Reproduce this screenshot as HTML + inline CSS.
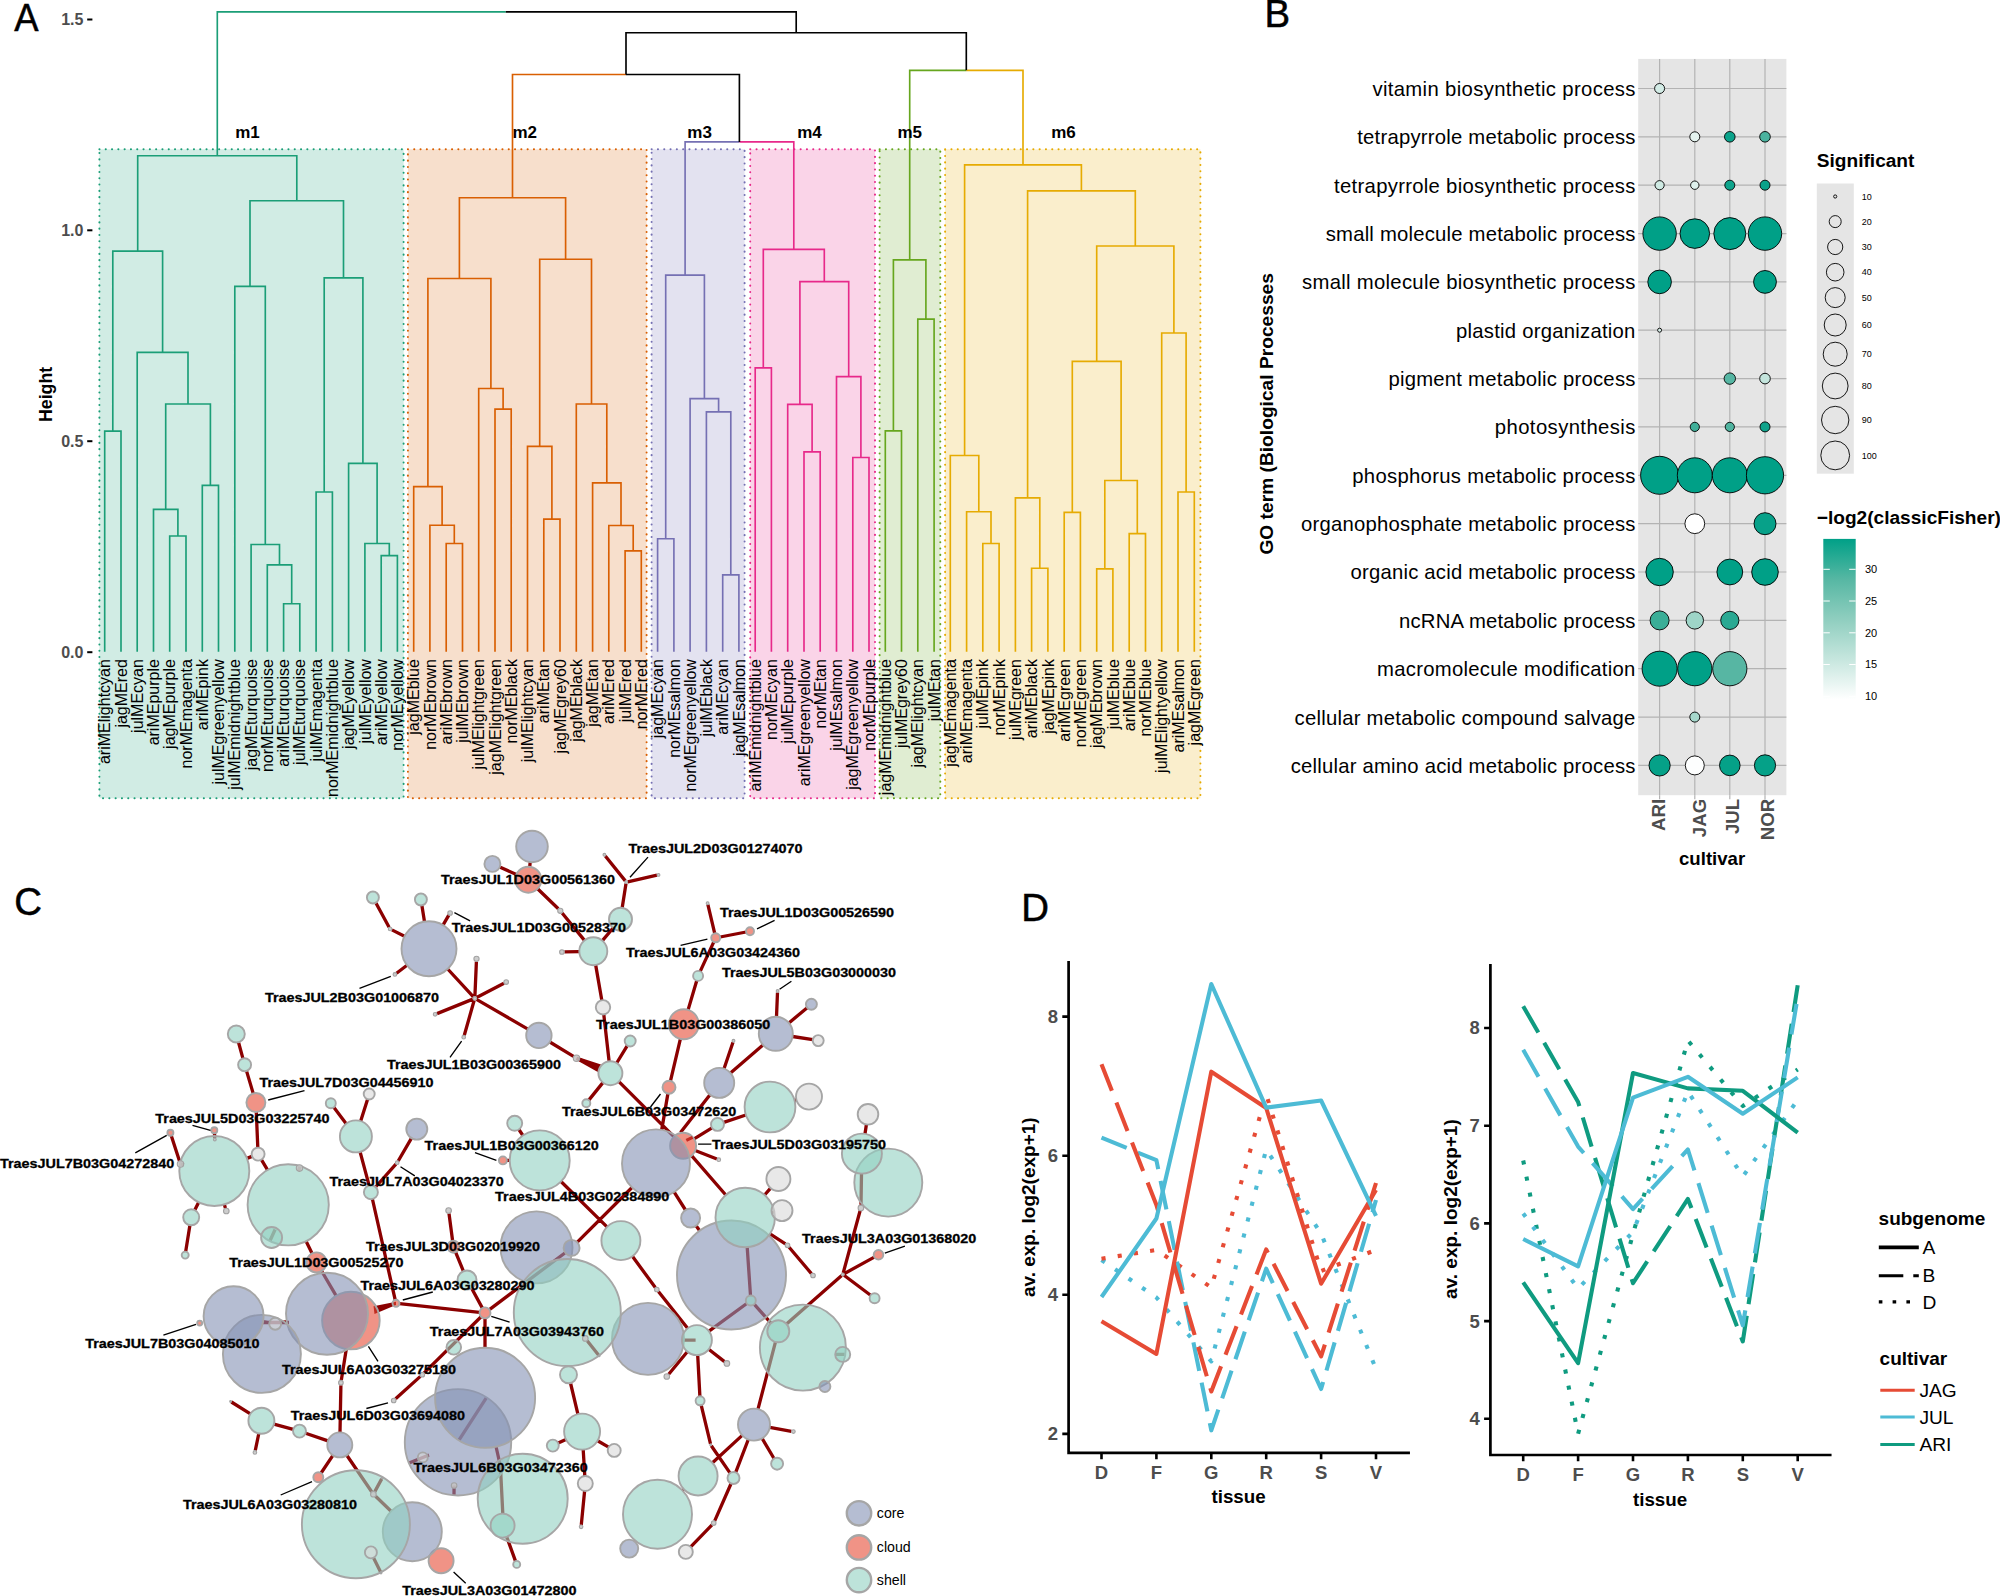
<!DOCTYPE html>
<html lang="en"><head><meta charset="utf-8"><title>Figure</title>
<style>
html,body{margin:0;padding:0;background:#fff}
svg{display:block;font-family:"Liberation Sans",sans-serif}
</style></head><body>
<svg width="2000" height="1596" viewBox="0 0 2000 1596">
<rect width="2000" height="1596" fill="#fff"/>
<g id="panelA">
<rect x="99.4" y="149.3" width="304.2" height="649" fill="#1b9e77" fill-opacity="0.2" stroke="#1b9e77" stroke-width="2" stroke-dasharray="0.1 6.2" stroke-linecap="round"/>
<rect x="407.9" y="149.3" width="238.7" height="649" fill="#d95f02" fill-opacity="0.2" stroke="#d95f02" stroke-width="2" stroke-dasharray="0.1 6.2" stroke-linecap="round"/>
<rect x="651.6" y="149.3" width="93" height="649" fill="#7570b3" fill-opacity="0.2" stroke="#7570b3" stroke-width="2" stroke-dasharray="0.1 6.2" stroke-linecap="round"/>
<rect x="750.2" y="149.3" width="124.8" height="649" fill="#e7298a" fill-opacity="0.2" stroke="#e7298a" stroke-width="2" stroke-dasharray="0.1 6.2" stroke-linecap="round"/>
<rect x="879.6" y="149.3" width="60.7" height="649" fill="#66a61e" fill-opacity="0.2" stroke="#66a61e" stroke-width="2" stroke-dasharray="0.1 6.2" stroke-linecap="round"/>
<rect x="945.1" y="149.3" width="255.3" height="649" fill="#e6ab02" fill-opacity="0.2" stroke="#e6ab02" stroke-width="2" stroke-dasharray="0.1 6.2" stroke-linecap="round"/>
<path d="M104.7 651.7V431.1H121V651.7M169.7 651.7V536H186V651.7M153.5 651.7V509.3H177.9V536M202.3 651.7V485.3H218.5V651.7M165.7 509.3V404H210.4V485.3M137.2 651.7V352.3H188V404M112.8 431.1V251.1H162.6V352.3M283.6 651.7V603.7H299.8V651.7M267.3 651.7V564.8H291.7V603.7M251.1 651.7V544.5H279.5V564.8M234.8 651.7V286.3H265.3V544.5M316.1 651.7V492H332.4V651.7M381.2 651.7V555.6H397.4V651.7M364.9 651.7V543.5H389.3V555.6M348.6 651.7V463.3H377.1V543.5M324.2 492V277.9H362.9V463.3M250 286.3V200.7H343.5V277.9M137.7 251.1V155.7H296.8V200.7" fill="none" stroke="#1b9e77" stroke-width="1.65"/>
<path d="M446.2 651.7V543.5H462.5V651.7M429.9 651.7V525.2H454.3V543.5M413.7 651.7V486.6H442.1V525.2M495 651.7V409.1H511.2V651.7M478.7 651.7V388.5H503.1V409.1M427.9 486.6V278.5H490.9V388.5M543.8 651.7V519.1H560V651.7M527.5 651.7V446.3H551.9V519.1M625.1 651.7V550.9H641.3V651.7M608.8 651.7V525.5H633.2V550.9M592.6 651.7V482.9H621V525.5M576.3 651.7V404H606.8V482.9M539.7 446.3V259.2H591.5V404M459.4 278.5V197.7H565.6V259.2" fill="none" stroke="#d95f02" stroke-width="1.65"/>
<path d="M657.6 651.7V538.7H673.9V651.7M722.7 651.7V574.9H738.9V651.7M706.4 651.7V411.8H730.8V574.9M690.1 651.7V398.6H718.6V411.8M665.7 538.7V275.1H704.4V398.6" fill="none" stroke="#7570b3" stroke-width="1.65"/>
<path d="M755.2 651.7V367.9H771.4V651.7M804 651.7V451.8H820.2V651.7M787.7 651.7V404.4H812.1V451.8M852.8 651.7V457.5H869V651.7M836.5 651.7V376.6H860.9V457.5M799.9 404.4V281.6H848.7V376.6M763.3 367.9V249.4H824.3V281.6" fill="none" stroke="#e7298a" stroke-width="1.65"/>
<path d="M885.3 651.7V430.8H901.5V651.7M917.8 651.7V319.1H934.1V651.7M893.4 430.8V259.9H925.9V319.1" fill="none" stroke="#66a61e" stroke-width="1.65"/>
<path d="M982.8 651.7V543.5H999.1V651.7M966.6 651.7V511.7H991V543.5M950.3 651.7V455.5H978.8V511.7M1031.6 651.7V568.2H1047.9V651.7M1015.4 651.7V497.8H1039.8V568.2M1064.2 651.7V512.3H1080.4V651.7M1096.7 651.7V568.8H1112.9V651.7M1129.2 651.7V533.6H1145.5V651.7M1104.8 568.8V480.5H1137.3V533.6M1072.3 512.3V361.4H1121.1V480.5M1178 651.7V492H1194.3V651.7M1161.7 651.7V333H1186.1V492M1096.7 361.4V246H1173.9V333M1027.6 497.8V190.9H1135.3V246M964.6 455.5V164.8H1081.4V190.9" fill="none" stroke="#e6ab02" stroke-width="1.65"/>
<path d="M217.3 155.7V11.8H505.8" stroke="#1b9e77" fill="none" stroke-width="1.65"/>
<path d="M512.5 197.7V74.5H626" stroke="#d95f02" fill="none" stroke-width="1.65"/>
<path d="M685.1 275.1V141.9H739.4" stroke="#7570b3" fill="none" stroke-width="1.65"/>
<path d="M793.8 249.4V141.9H739.4" stroke="#e7298a" fill="none" stroke-width="1.65"/>
<path d="M909.7 259.9V70.3H966.3" stroke="#66a61e" fill="none" stroke-width="1.65"/>
<path d="M1023 164.8V70.3H966.3" stroke="#e6ab02" fill="none" stroke-width="1.65"/>
<path d="M505.8 11.8H796.2V32.7M626 74.5V32.7H966.3V70.3M626 74.5H739.4V141.9" stroke="#000" fill="none" stroke-width="1.65"/>
<text x="235.2" y="137.6" font-size="17" font-weight="bold">m1</text>
<text x="512.5" y="137.6" font-size="17" font-weight="bold">m2</text>
<text x="687.3" y="137.6" font-size="17" font-weight="bold">m3</text>
<text x="797.2" y="137.6" font-size="17" font-weight="bold">m4</text>
<text x="897.5" y="137.6" font-size="17" font-weight="bold">m5</text>
<text x="1051.2" y="137.6" font-size="17" font-weight="bold">m6</text>
<g font-size="16" text-anchor="end">
<text transform="translate(110.3,659.1) rotate(-90)">ariMElightcyan</text>
<text transform="translate(126.6,659.1) rotate(-90)">jagMEred</text>
<text transform="translate(142.8,659.1) rotate(-90)">julMEcyan</text>
<text transform="translate(159.1,659.1) rotate(-90)">ariMEpurple</text>
<text transform="translate(175.3,659.1) rotate(-90)">jagMEpurple</text>
<text transform="translate(191.6,659.1) rotate(-90)">norMEmagenta</text>
<text transform="translate(207.9,659.1) rotate(-90)">ariMEpink</text>
<text transform="translate(224.1,659.1) rotate(-90)">julMEgreenyellow</text>
<text transform="translate(240.4,659.1) rotate(-90)">julMEmidnightblue</text>
<text transform="translate(256.7,659.1) rotate(-90)">jagMEturquoise</text>
<text transform="translate(272.9,659.1) rotate(-90)">norMEturquoise</text>
<text transform="translate(289.2,659.1) rotate(-90)">ariMEturquoise</text>
<text transform="translate(305.4,659.1) rotate(-90)">julMEturquoise</text>
<text transform="translate(321.7,659.1) rotate(-90)">julMEmagenta</text>
<text transform="translate(338,659.1) rotate(-90)">norMEmidnightblue</text>
<text transform="translate(354.2,659.1) rotate(-90)">jagMEyellow</text>
<text transform="translate(370.5,659.1) rotate(-90)">julMEyellow</text>
<text transform="translate(386.8,659.1) rotate(-90)">ariMEyellow</text>
<text transform="translate(403,659.1) rotate(-90)">norMEyellow</text>
<text transform="translate(419.3,659.1) rotate(-90)">jagMEblue</text>
<text transform="translate(435.5,659.1) rotate(-90)">norMEbrown</text>
<text transform="translate(451.8,659.1) rotate(-90)">ariMEbrown</text>
<text transform="translate(468.1,659.1) rotate(-90)">julMEbrown</text>
<text transform="translate(484.3,659.1) rotate(-90)">julMElightgreen</text>
<text transform="translate(500.6,659.1) rotate(-90)">jagMElightgreen</text>
<text transform="translate(516.9,659.1) rotate(-90)">norMEblack</text>
<text transform="translate(533.1,659.1) rotate(-90)">julMElightcyan</text>
<text transform="translate(549.4,659.1) rotate(-90)">ariMEtan</text>
<text transform="translate(565.6,659.1) rotate(-90)">jagMEgrey60</text>
<text transform="translate(581.9,659.1) rotate(-90)">jagMEblack</text>
<text transform="translate(598.2,659.1) rotate(-90)">jagMEtan</text>
<text transform="translate(614.4,659.1) rotate(-90)">ariMEred</text>
<text transform="translate(630.7,659.1) rotate(-90)">julMEred</text>
<text transform="translate(646.9,659.1) rotate(-90)">norMEred</text>
<text transform="translate(663.2,659.1) rotate(-90)">jagMEcyan</text>
<text transform="translate(679.5,659.1) rotate(-90)">norMEsalmon</text>
<text transform="translate(695.7,659.1) rotate(-90)">norMEgreenyellow</text>
<text transform="translate(712,659.1) rotate(-90)">julMEblack</text>
<text transform="translate(728.3,659.1) rotate(-90)">ariMEcyan</text>
<text transform="translate(744.5,659.1) rotate(-90)">jagMEsalmon</text>
<text transform="translate(760.8,659.1) rotate(-90)">ariMEmidnightblue</text>
<text transform="translate(777,659.1) rotate(-90)">norMEcyan</text>
<text transform="translate(793.3,659.1) rotate(-90)">julMEpurple</text>
<text transform="translate(809.6,659.1) rotate(-90)">ariMEgreenyellow</text>
<text transform="translate(825.8,659.1) rotate(-90)">norMEtan</text>
<text transform="translate(842.1,659.1) rotate(-90)">julMEsalmon</text>
<text transform="translate(858.4,659.1) rotate(-90)">jagMEgreenyellow</text>
<text transform="translate(874.6,659.1) rotate(-90)">norMEpurple</text>
<text transform="translate(890.9,659.1) rotate(-90)">jagMEmidnightblue</text>
<text transform="translate(907.1,659.1) rotate(-90)">julMEgrey60</text>
<text transform="translate(923.4,659.1) rotate(-90)">jagMElightcyan</text>
<text transform="translate(939.7,659.1) rotate(-90)">julMEtan</text>
<text transform="translate(955.9,659.1) rotate(-90)">jagMEmagenta</text>
<text transform="translate(972.2,659.1) rotate(-90)">ariMEmagenta</text>
<text transform="translate(988.4,659.1) rotate(-90)">julMEpink</text>
<text transform="translate(1004.7,659.1) rotate(-90)">norMEpink</text>
<text transform="translate(1021,659.1) rotate(-90)">julMEgreen</text>
<text transform="translate(1037.2,659.1) rotate(-90)">ariMEblack</text>
<text transform="translate(1053.5,659.1) rotate(-90)">jagMEpink</text>
<text transform="translate(1069.8,659.1) rotate(-90)">ariMEgreen</text>
<text transform="translate(1086,659.1) rotate(-90)">norMEgreen</text>
<text transform="translate(1102.3,659.1) rotate(-90)">jagMEbrown</text>
<text transform="translate(1118.5,659.1) rotate(-90)">julMEblue</text>
<text transform="translate(1134.8,659.1) rotate(-90)">ariMEblue</text>
<text transform="translate(1151.1,659.1) rotate(-90)">norMEblue</text>
<text transform="translate(1167.3,659.1) rotate(-90)">julMElightyellow</text>
<text transform="translate(1183.6,659.1) rotate(-90)">ariMEsalmon</text>
<text transform="translate(1199.9,659.1) rotate(-90)">jagMEgreen</text>
</g>
<text x="83.4" y="25.3" font-size="16" text-anchor="end" font-weight="bold" fill="#4d4d4d">1.5</text>
<rect x="87.2" y="18.5" width="5.2" height="2" fill="#000"/>
<text x="83.4" y="236.1" font-size="16" text-anchor="end" font-weight="bold" fill="#4d4d4d">1.0</text>
<rect x="87.2" y="229.3" width="5.2" height="2" fill="#000"/>
<text x="83.4" y="447" font-size="16" text-anchor="end" font-weight="bold" fill="#4d4d4d">0.5</text>
<rect x="87.2" y="440.2" width="5.2" height="2" fill="#000"/>
<text x="83.4" y="658" font-size="16" text-anchor="end" font-weight="bold" fill="#4d4d4d">0.0</text>
<rect x="87.2" y="651.2" width="5.2" height="2" fill="#000"/>
<text font-size="17.8" text-anchor="middle" font-weight="bold" transform="translate(52.2,394.4) rotate(-90)">Height</text>
<text x="14.3" y="31.1" font-size="38.4" stroke="#000" stroke-width="0.5" transform="translate(14.3 0) scale(0.95 1) translate(-14.3 0)">A</text>
</g>
<g id="panelB">
<rect x="1638.2" y="58.9" width="148.2" height="736.3" fill="#e5e5e5"/>
<path d="M1659.6 58.9V795.2M1694.8 58.9V795.2M1729.8 58.9V795.2M1765 58.9V795.2M1638.2 88.5H1786.4M1638.2 136.8H1786.4M1638.2 185.2H1786.4M1638.2 233.6H1786.4M1638.2 281.9H1786.4M1638.2 330.2H1786.4M1638.2 378.6H1786.4M1638.2 426.9H1786.4M1638.2 475.3H1786.4M1638.2 523.7H1786.4M1638.2 572H1786.4M1638.2 620.4H1786.4M1638.2 668.7H1786.4M1638.2 717.1H1786.4M1638.2 765.4H1786.4" stroke="#b3b3b3" stroke-width="1.2" fill="none"/>
<path d="M1659.6 795.2v4M1694.8 795.2v4M1729.8 795.2v4M1765 795.2v4" stroke="#b3b3b3" stroke-width="1.2" fill="none"/>
<circle cx="1659.6" cy="88.5" r="5" fill="#d3ece6" stroke="#000" stroke-width="0.9"/>
<circle cx="1694.8" cy="136.8" r="5" fill="#e4f3ef" stroke="#000" stroke-width="0.9"/>
<circle cx="1729.8" cy="136.8" r="5.3" fill="#0ba38b" stroke="#000" stroke-width="0.9"/>
<circle cx="1765" cy="136.8" r="5.3" fill="#4bb39f" stroke="#000" stroke-width="0.9"/>
<circle cx="1659.6" cy="185.2" r="4.6" fill="#cfeae3" stroke="#000" stroke-width="0.9"/>
<circle cx="1694.8" cy="185.2" r="4.2" fill="#def0ec" stroke="#000" stroke-width="0.9"/>
<circle cx="1729.8" cy="185.2" r="5" fill="#0ea48c" stroke="#000" stroke-width="0.9"/>
<circle cx="1765" cy="185.2" r="5" fill="#0aa28a" stroke="#000" stroke-width="0.9"/>
<circle cx="1659.6" cy="233.6" r="16.7" fill="#00a087" stroke="#000" stroke-width="0.9"/>
<circle cx="1694.8" cy="233.6" r="14.8" fill="#00a087" stroke="#000" stroke-width="0.9"/>
<circle cx="1729.8" cy="233.6" r="16" fill="#00a087" stroke="#000" stroke-width="0.9"/>
<circle cx="1765" cy="233.6" r="16.7" fill="#00a087" stroke="#000" stroke-width="0.9"/>
<circle cx="1659.6" cy="281.9" r="11.8" fill="#00a087" stroke="#000" stroke-width="0.9"/>
<circle cx="1765" cy="281.9" r="11.4" fill="#00a087" stroke="#000" stroke-width="0.9"/>
<circle cx="1659.6" cy="330.2" r="2" fill="#d9eee9" stroke="#000" stroke-width="0.9"/>
<circle cx="1729.8" cy="378.6" r="5.7" fill="#56b6a3" stroke="#000" stroke-width="0.9"/>
<circle cx="1765" cy="378.6" r="5.3" fill="#c4e5dd" stroke="#000" stroke-width="0.9"/>
<circle cx="1694.8" cy="426.9" r="4.6" fill="#40af99" stroke="#000" stroke-width="0.9"/>
<circle cx="1729.8" cy="426.9" r="4.6" fill="#50b4a0" stroke="#000" stroke-width="0.9"/>
<circle cx="1765" cy="426.9" r="5" fill="#10a38b" stroke="#000" stroke-width="0.9"/>
<circle cx="1659.6" cy="475.3" r="19" fill="#00a087" stroke="#000" stroke-width="0.9"/>
<circle cx="1694.8" cy="475.3" r="17.5" fill="#00a087" stroke="#000" stroke-width="0.9"/>
<circle cx="1729.8" cy="475.3" r="17.5" fill="#00a087" stroke="#000" stroke-width="0.9"/>
<circle cx="1765" cy="475.3" r="18.6" fill="#00a087" stroke="#000" stroke-width="0.9"/>
<circle cx="1694.8" cy="523.7" r="9.9" fill="#ffffff" stroke="#000" stroke-width="0.9"/>
<circle cx="1765" cy="523.7" r="11" fill="#07a189" stroke="#000" stroke-width="0.9"/>
<circle cx="1659.6" cy="572" r="13.7" fill="#00a087" stroke="#000" stroke-width="0.9"/>
<circle cx="1729.8" cy="572" r="12.9" fill="#00a087" stroke="#000" stroke-width="0.9"/>
<circle cx="1765" cy="572" r="13.3" fill="#00a087" stroke="#000" stroke-width="0.9"/>
<circle cx="1659.6" cy="620.4" r="9.5" fill="#3aae97" stroke="#000" stroke-width="0.9"/>
<circle cx="1694.8" cy="620.4" r="8.7" fill="#9ed5c8" stroke="#000" stroke-width="0.9"/>
<circle cx="1729.8" cy="620.4" r="9.1" fill="#2aa993" stroke="#000" stroke-width="0.9"/>
<circle cx="1659.6" cy="668.7" r="17.5" fill="#00a087" stroke="#000" stroke-width="0.9"/>
<circle cx="1694.8" cy="668.7" r="17.1" fill="#00a087" stroke="#000" stroke-width="0.9"/>
<circle cx="1729.8" cy="668.7" r="17.1" fill="#57b6a3" stroke="#000" stroke-width="0.9"/>
<circle cx="1694.8" cy="717.1" r="5" fill="#a6d8cc" stroke="#000" stroke-width="0.9"/>
<circle cx="1659.6" cy="765.4" r="10.6" fill="#05a188" stroke="#000" stroke-width="0.9"/>
<circle cx="1694.8" cy="765.4" r="9.5" fill="#fdfefe" stroke="#000" stroke-width="0.9"/>
<circle cx="1729.8" cy="765.4" r="10.3" fill="#05a188" stroke="#000" stroke-width="0.9"/>
<circle cx="1765" cy="765.4" r="10.6" fill="#05a188" stroke="#000" stroke-width="0.9"/>
<g font-size="20.3" text-anchor="end">
<text x="1635.4" y="95.9" textLength="263" lengthAdjust="spacing">vitamin biosynthetic process</text>
<text x="1635.4" y="144.2" textLength="278.2" lengthAdjust="spacing">tetrapyrrole metabolic process</text>
<text x="1635.4" y="192.6" textLength="301.3" lengthAdjust="spacing">tetrapyrrole biosynthetic process</text>
<text x="1635.4" y="241" textLength="309.7" lengthAdjust="spacing">small molecule metabolic process</text>
<text x="1635.4" y="289.3" textLength="333.3" lengthAdjust="spacing">small molecule biosynthetic process</text>
<text x="1635.4" y="337.6" textLength="179.4" lengthAdjust="spacing">plastid organization</text>
<text x="1635.4" y="386" textLength="247" lengthAdjust="spacing">pigment metabolic process</text>
<text x="1635.4" y="434.3" textLength="140.6" lengthAdjust="spacing">photosynthesis</text>
<text x="1635.4" y="482.7" textLength="283.1" lengthAdjust="spacing">phosphorus metabolic process</text>
<text x="1635.4" y="531.1" textLength="334.4" lengthAdjust="spacing">organophosphate metabolic process</text>
<text x="1635.4" y="579.4" textLength="285" lengthAdjust="spacing">organic acid metabolic process</text>
<text x="1635.4" y="627.8" textLength="236.4" lengthAdjust="spacing">ncRNA metabolic process</text>
<text x="1635.4" y="676.1" textLength="258.4" lengthAdjust="spacing">macromolecule modification</text>
<text x="1635.4" y="724.5" textLength="340.9" lengthAdjust="spacing">cellular metabolic compound salvage</text>
<text x="1635.4" y="772.8" textLength="344.7" lengthAdjust="spacing">cellular amino acid metabolic process</text>
</g>
<text font-size="18.7" text-anchor="end" font-weight="bold" fill="#4d4d4d" transform="translate(1664.8,798.8) rotate(-90)">ARI</text>
<text font-size="18.7" text-anchor="end" font-weight="bold" fill="#4d4d4d" transform="translate(1705.9,798.8) rotate(-90)">JAG</text>
<text font-size="18.7" text-anchor="end" font-weight="bold" fill="#4d4d4d" transform="translate(1739.4,798.8) rotate(-90)">JUL</text>
<text font-size="18.7" text-anchor="end" font-weight="bold" fill="#4d4d4d" transform="translate(1774,798.8) rotate(-90)">NOR</text>
<text x="1712.1" y="864.8" font-size="18.6" text-anchor="middle" font-weight="bold">cultivar</text>
<text font-size="19.2" text-anchor="middle" font-weight="bold" transform="translate(1273,413.8) rotate(-90)">GO term (Biological Processes</text>
<text x="1816.8" y="166.5" font-size="19.1" font-weight="bold">Significant</text>
<rect x="1816.8" y="183.5" width="37" height="290.2" fill="#e5e5e5"/>
<circle cx="1835.2" cy="196.5" r="1.6" fill="#e5e5e5" stroke="#000" stroke-width="0.9"/>
<text x="1861.8" y="199.7" font-size="9">10</text>
<circle cx="1835.2" cy="221.6" r="6" fill="#e5e5e5" stroke="#000" stroke-width="0.9"/>
<text x="1861.8" y="224.8" font-size="9">20</text>
<circle cx="1835.2" cy="247" r="7.6" fill="#e5e5e5" stroke="#000" stroke-width="0.9"/>
<text x="1861.8" y="250.2" font-size="9">30</text>
<circle cx="1835.2" cy="272.2" r="8.8" fill="#e5e5e5" stroke="#000" stroke-width="0.9"/>
<text x="1861.8" y="275.4" font-size="9">40</text>
<circle cx="1835.2" cy="297.6" r="10" fill="#e5e5e5" stroke="#000" stroke-width="0.9"/>
<text x="1861.8" y="300.8" font-size="9">50</text>
<circle cx="1835.2" cy="325" r="11" fill="#e5e5e5" stroke="#000" stroke-width="0.9"/>
<text x="1861.8" y="328.2" font-size="9">60</text>
<circle cx="1835.2" cy="354.2" r="12" fill="#e5e5e5" stroke="#000" stroke-width="0.9"/>
<text x="1861.8" y="357.4" font-size="9">70</text>
<circle cx="1835.2" cy="386" r="12.9" fill="#e5e5e5" stroke="#000" stroke-width="0.9"/>
<text x="1861.8" y="389.2" font-size="9">80</text>
<circle cx="1835.2" cy="420" r="13.7" fill="#e5e5e5" stroke="#000" stroke-width="0.9"/>
<text x="1861.8" y="423.2" font-size="9">90</text>
<circle cx="1835.2" cy="455.4" r="14.4" fill="#e5e5e5" stroke="#000" stroke-width="0.9"/>
<text x="1861.8" y="458.6" font-size="9">100</text>
<text x="1816.8" y="524.3" font-size="19.1" font-weight="bold">−log2(classicFisher)</text>
<defs><linearGradient id="cb" x1="0" y1="0" x2="0" y2="1"><stop offset="0" stop-color="#00a087"/><stop offset="0.25" stop-color="#56b7a3"/><stop offset="0.5" stop-color="#8fcebf"/><stop offset="0.75" stop-color="#c6e6de"/><stop offset="1" stop-color="#ffffff"/></linearGradient></defs>
<rect x="1823.3" y="538.9" width="32.4" height="160.6" fill="url(#cb)"/>
<text x="1865" y="573.2" font-size="11">30</text>
<text x="1865" y="604.9" font-size="11">25</text>
<text x="1865" y="636.7" font-size="11">20</text>
<text x="1865" y="668.4" font-size="11">15</text>
<text x="1865" y="700.2" font-size="11">10</text>
<path d="M1823.3 569.3h6.5M1855.7 569.3h-6.5M1823.3 601h6.5M1855.7 601h-6.5M1823.3 632.8h6.5M1855.7 632.8h-6.5M1823.3 664.5h6.5M1855.7 664.5h-6.5M1823.3 696.3h6.5M1855.7 696.3h-6.5" stroke="#fff" stroke-width="1" fill="none"/>
<text x="1264.5" y="27.2" font-size="38.4" stroke="#000" stroke-width="0.5">B</text>
</g>
<g id="panelC">
<path d="M530.2 862.2L529.7 866.8M499.7 867.1L516.4 874.5M537.6 888.8L558.3 908.8M562.1 913L584.5 940.4M613.1 928L602.4 940.6M626 883.6L622.2 907.8M605.3 856L625.3 880.9M657 875.2L627.7 881.8M564.4 951.9L579.3 951.6M595.7 965.1L601.8 1000.2M603.8 1014.5L609.1 1061.3M616.7 1063L627.3 1045.7M602.9 1082.6L588.8 1100.1M579.7 1059.6L599.4 1068.3M549.8 1042L573.5 1056.4M476.5 999.4L527.9 1029.1M474.9 996.4L476.4 961.6M476.6 997.5L504 983.3M472.9 999.1L437 1013.6M474.2 1000.3L464.3 1035.3M447.7 969L473.4 996.9M375.8 902.8L389.1 927.2M391.9 929.9L404.5 936.3M421.9 905.4L424.5 921.7M448.8 915.2L443 925.1M396.5 973.2L407 965.3M707.9 904.7L714.7 933.4M746.1 932L720.1 937M713.8 941.9L700.2 971.4M696.7 980.7L688.1 1009.9M680.4 1038.9L670.5 1080.9M667.9 1093.6L661.7 1129.9M618.9 1081.7L673.9 1136.6M776.5 1016.8L777.5 992.5M788.9 1022.9L807.2 1007.7M792.6 1036.5L812.8 1039.7M763 1044.9L730.5 1073.1M733 1042.2L724 1068.7M745.9 1115L723.7 1122.4M712 1127.8L694.1 1138.9M695.2 1150.5L716.9 1159M691.6 1155.6L725.8 1195M770.6 1188.1L764.6 1195M866.4 1124.5L865 1133.8M861.5 1173.6L861 1204.9M860.1 1210.8L843.2 1273M794.5 1100.5L796.4 1099.9M771.7 1212.5L774.4 1212M238.5 1042.2L242.9 1058.4M246.5 1070.9L253.2 1093.4M256.3 1112L257.8 1147.6M261.4 1159.7L267.5 1169.9M252 1156.4L247 1158.4M171.3 1135.7L179.4 1160.7M214.5 1133.3L214.7 1138M333.8 1107.3L346.2 1123.7M367.6 1099.2L360.7 1121.1M360.1 1151.9L369.1 1185.4M411.5 1138.2L398.2 1161M395.9 1164.2L375.6 1187M372.4 1199L395.2 1299.9M189.9 1225.2L185.7 1251.6M194.8 1210.1L198.7 1202.3M225.4 1208.1L224.4 1204.5M306.1 1241.2L312.1 1253.4M321.6 1271L336.2 1295.8M399.5 1303.7L479.5 1312.3M449 1213.5L452.6 1240.8M455.7 1252.3L463.4 1271.2M471.6 1288.3L482.4 1308.1M485 1318.4L485 1347.8M481.1 1316.8L424.1 1372.9M420.4 1376.4L395.6 1398.8M489.4 1309.6L565.2 1252.7M263.1 1321.6L269.3 1322.7M281.1 1322.7L286.7 1321.6M346.3 1349L341.3 1380.2M340.9 1385.2L340 1432.4M328 1440.9L305.6 1433.2M293.2 1429.4L273.9 1424.2M250.4 1413.9L231.4 1402M258.8 1433.5L255.3 1450.4M332.9 1455.3L321.1 1473M346.8 1455.2L371.7 1491.7M375.6 1496.3L391.1 1511.3M374.8 1491.6L381.7 1478.9M373.5 1557.8L380.6 1572.1M433.1 1552.7L432.3 1551.8M632 1187.5L577.3 1242.2M561 1181.5L607 1226.9M632.4 1256.3L655.3 1287.5M658.4 1291.5L687.6 1328.3M674.2 1192.1L685.5 1210M696.1 1225.7L699.7 1230.7M747.2 1247.1L750.5 1295.5M746.8 1303.5L709 1331.2M754.1 1304.2L771 1323.1M770 1233.8L785.4 1243.9M789.1 1247.2L811.4 1273.6M786.5 1324L841.7 1275.4M844.1 1273.7L874.3 1257.1M844 1275.3L870.6 1295.3M708.7 1349.3L724.5 1361.6M687.3 1351.7L668.7 1374.2M697.7 1355.1L699.9 1396.3M701.2 1405.2L710.5 1443.9M711.3 1445.7L730.1 1473.1M775.5 1341.9L758 1409.1M769.8 1427.4L791.4 1431.3M762.1 1438.4L774 1458.5M742.2 1435.4L712.5 1462.8M748.3 1439.5L735.7 1472.4M731.1 1483.5L714.7 1520.8M712 1524.9L690.7 1546.9M683.9 1489.4L682.6 1490.6M634.9 1541.7L635.5 1540.9M568.3 1366L568.3 1366.2M570.5 1383L577.9 1414.1M583.2 1449.6L584.8 1476M584.6 1491L581.3 1524.8M565.9 1439.4L558.2 1443M597.6 1440.7L608.6 1447.1M587.2 1340.8L598.5 1355.1M506.7 1536.9L515.5 1561.1M518.9 1129.5L522.9 1135.5M506.9 1160.4L509.7 1160.4M298.5 1171.3L300.1 1166M183.9 1164.7L180 1163.9M486.3 1397.8L458.8 1440.4M496 1446.5L500.4 1466M500.4 1466L502.8 1513.6M681.8 1340.1L695.6 1340.1M836 1354.4L844.7 1354.4M409 1463L429 1455M454.1 1485.5L454 1495.5M263 1322.5L289 1322.5M270 1240.8L275.1 1229.5M710 1094.7L680.5 1132.5" fill="none" stroke="#8b0000" stroke-width="3.3"/>
<path d="M396 1301.7L373.5 1306.3L374.5 1314L396 1304.9Z" fill="#8b0000"/>
<path d="M575.9 1059.7L577.2 1056.7L601 1064.6L597.8 1072Z" fill="#8b0000"/>
<circle cx="350.9" cy="1320.6" r="28.8" fill="#e64b35" fill-opacity="0.6" stroke="#a6a6a6" stroke-width="1.9"/>
<circle cx="683.8" cy="1024.3" r="15" fill="#e64b35" fill-opacity="0.6" stroke="#a6a6a6" stroke-width="1.9"/>
<circle cx="528.3" cy="879.7" r="13" fill="#e64b35" fill-opacity="0.6" stroke="#a6a6a6" stroke-width="1.9"/>
<circle cx="683.1" cy="1145.8" r="13" fill="#e64b35" fill-opacity="0.6" stroke="#a6a6a6" stroke-width="1.9"/>
<circle cx="441.1" cy="1560.7" r="12.5" fill="#e64b35" fill-opacity="0.6" stroke="#a6a6a6" stroke-width="1.9"/>
<circle cx="316.5" cy="1262.4" r="10" fill="#e64b35" fill-opacity="0.6" stroke="#a6a6a6" stroke-width="1.9"/>
<circle cx="255.9" cy="1102.5" r="9.5" fill="#e64b35" fill-opacity="0.6" stroke="#a6a6a6" stroke-width="1.9"/>
<circle cx="731.5" cy="1275" r="54.5" fill="#8491b4" fill-opacity="0.6" stroke="#a6a6a6" stroke-width="1.9"/>
<circle cx="458" cy="1442.3" r="53.2" fill="#8491b4" fill-opacity="0.6" stroke="#a6a6a6" stroke-width="1.9"/>
<circle cx="485.1" cy="1397.8" r="50" fill="#8491b4" fill-opacity="0.6" stroke="#a6a6a6" stroke-width="1.9"/>
<circle cx="327" cy="1313.8" r="41" fill="#8491b4" fill-opacity="0.6" stroke="#a6a6a6" stroke-width="1.9"/>
<circle cx="261.9" cy="1353.9" r="39" fill="#8491b4" fill-opacity="0.6" stroke="#a6a6a6" stroke-width="1.9"/>
<circle cx="536.5" cy="1247.4" r="36" fill="#8491b4" fill-opacity="0.6" stroke="#a6a6a6" stroke-width="1.9"/>
<circle cx="648" cy="1338.9" r="36" fill="#8491b4" fill-opacity="0.6" stroke="#a6a6a6" stroke-width="1.9"/>
<circle cx="656" cy="1163.4" r="34" fill="#8491b4" fill-opacity="0.6" stroke="#a6a6a6" stroke-width="1.9"/>
<circle cx="233.6" cy="1316.3" r="30" fill="#8491b4" fill-opacity="0.6" stroke="#a6a6a6" stroke-width="1.9"/>
<circle cx="412.3" cy="1531.8" r="29.5" fill="#8491b4" fill-opacity="0.6" stroke="#a6a6a6" stroke-width="1.9"/>
<circle cx="429" cy="948.8" r="27.5" fill="#8491b4" fill-opacity="0.6" stroke="#a6a6a6" stroke-width="1.9"/>
<circle cx="775.8" cy="1033.8" r="17" fill="#8491b4" fill-opacity="0.6" stroke="#a6a6a6" stroke-width="1.9"/>
<circle cx="754" cy="1424.6" r="16" fill="#8491b4" fill-opacity="0.6" stroke="#a6a6a6" stroke-width="1.9"/>
<circle cx="532" cy="846.5" r="15.8" fill="#8491b4" fill-opacity="0.6" stroke="#a6a6a6" stroke-width="1.9"/>
<circle cx="719.2" cy="1082.9" r="15" fill="#8491b4" fill-opacity="0.6" stroke="#a6a6a6" stroke-width="1.9"/>
<circle cx="538.9" cy="1035.4" r="12.7" fill="#8491b4" fill-opacity="0.6" stroke="#a6a6a6" stroke-width="1.9"/>
<circle cx="339.8" cy="1444.9" r="12.5" fill="#8491b4" fill-opacity="0.6" stroke="#a6a6a6" stroke-width="1.9"/>
<circle cx="416.8" cy="1129.1" r="10.5" fill="#8491b4" fill-opacity="0.6" stroke="#a6a6a6" stroke-width="1.9"/>
<circle cx="690.6" cy="1218" r="9.5" fill="#8491b4" fill-opacity="0.6" stroke="#a6a6a6" stroke-width="1.9"/>
<circle cx="355.9" cy="1524.3" r="54" fill="#91d1c2" fill-opacity="0.6" stroke="#a6a6a6" stroke-width="1.9"/>
<circle cx="567.3" cy="1312.5" r="53.5" fill="#91d1c2" fill-opacity="0.6" stroke="#a6a6a6" stroke-width="1.9"/>
<circle cx="522.7" cy="1498.8" r="45" fill="#91d1c2" fill-opacity="0.6" stroke="#a6a6a6" stroke-width="1.9"/>
<circle cx="802.9" cy="1347.6" r="43" fill="#91d1c2" fill-opacity="0.6" stroke="#a6a6a6" stroke-width="1.9"/>
<circle cx="288.2" cy="1204.8" r="40.6" fill="#91d1c2" fill-opacity="0.6" stroke="#a6a6a6" stroke-width="1.9"/>
<circle cx="214.3" cy="1171" r="35" fill="#91d1c2" fill-opacity="0.6" stroke="#a6a6a6" stroke-width="1.9"/>
<circle cx="657.5" cy="1514.3" r="34.5" fill="#91d1c2" fill-opacity="0.6" stroke="#a6a6a6" stroke-width="1.9"/>
<circle cx="888.3" cy="1182.6" r="34" fill="#91d1c2" fill-opacity="0.6" stroke="#a6a6a6" stroke-width="1.9"/>
<circle cx="539.7" cy="1160.4" r="30" fill="#91d1c2" fill-opacity="0.6" stroke="#a6a6a6" stroke-width="1.9"/>
<circle cx="745.2" cy="1217.5" r="29.7" fill="#91d1c2" fill-opacity="0.6" stroke="#a6a6a6" stroke-width="1.9"/>
<circle cx="770" cy="1107" r="25.4" fill="#91d1c2" fill-opacity="0.6" stroke="#a6a6a6" stroke-width="1.9"/>
<circle cx="861.9" cy="1153.6" r="20" fill="#91d1c2" fill-opacity="0.6" stroke="#a6a6a6" stroke-width="1.9"/>
<circle cx="620.9" cy="1240.6" r="19.5" fill="#91d1c2" fill-opacity="0.6" stroke="#a6a6a6" stroke-width="1.9"/>
<circle cx="698.1" cy="1476" r="19.5" fill="#91d1c2" fill-opacity="0.6" stroke="#a6a6a6" stroke-width="1.9"/>
<circle cx="582.1" cy="1431.6" r="18" fill="#91d1c2" fill-opacity="0.6" stroke="#a6a6a6" stroke-width="1.9"/>
<circle cx="355.9" cy="1136.4" r="16" fill="#91d1c2" fill-opacity="0.6" stroke="#a6a6a6" stroke-width="1.9"/>
<circle cx="696.9" cy="1340.1" r="15" fill="#91d1c2" fill-opacity="0.6" stroke="#a6a6a6" stroke-width="1.9"/>
<circle cx="593.3" cy="951.3" r="14" fill="#91d1c2" fill-opacity="0.6" stroke="#a6a6a6" stroke-width="1.9"/>
<circle cx="261.4" cy="1420.8" r="13" fill="#91d1c2" fill-opacity="0.6" stroke="#a6a6a6" stroke-width="1.9"/>
<circle cx="610.4" cy="1073.2" r="12" fill="#91d1c2" fill-opacity="0.6" stroke="#a6a6a6" stroke-width="1.9"/>
<circle cx="502.6" cy="1525.6" r="12" fill="#91d1c2" fill-opacity="0.6" stroke="#a6a6a6" stroke-width="1.9"/>
<circle cx="620.5" cy="919.2" r="11.5" fill="#91d1c2" fill-opacity="0.6" stroke="#a6a6a6" stroke-width="1.9"/>
<circle cx="778.3" cy="1331.3" r="11" fill="#91d1c2" fill-opacity="0.6" stroke="#a6a6a6" stroke-width="1.9"/>
<circle cx="271.6" cy="1237.5" r="10.5" fill="#91d1c2" fill-opacity="0.6" stroke="#a6a6a6" stroke-width="1.9"/>
<circle cx="467" cy="1280" r="9.5" fill="#91d1c2" fill-opacity="0.6" stroke="#a6a6a6" stroke-width="1.9"/>
<circle cx="809" cy="1096.6" r="13" fill="#d9d9d9" fill-opacity="0.6" stroke="#a6a6a6" stroke-width="1.9"/>
<circle cx="778.4" cy="1179" r="12" fill="#d9d9d9" fill-opacity="0.6" stroke="#a6a6a6" stroke-width="1.9"/>
<circle cx="782" cy="1210.6" r="10.5" fill="#d9d9d9" fill-opacity="0.6" stroke="#a6a6a6" stroke-width="1.9"/>
<circle cx="868" cy="1114.3" r="10.3" fill="#d9d9d9" fill-opacity="0.6" stroke="#a6a6a6" stroke-width="1.9"/>
<circle cx="629.2" cy="1548.6" r="9" fill="#8491b4" fill-opacity="0.6" stroke="#a6a6a6" stroke-width="1.9"/>
<circle cx="236.3" cy="1034" r="8.5" fill="#91d1c2" fill-opacity="0.6" stroke="#a6a6a6" stroke-width="1.9"/>
<circle cx="568.5" cy="1374.7" r="8.5" fill="#91d1c2" fill-opacity="0.6" stroke="#a6a6a6" stroke-width="1.9"/>
<circle cx="492.4" cy="863.9" r="8" fill="#8491b4" fill-opacity="0.6" stroke="#a6a6a6" stroke-width="1.9"/>
<circle cx="191.2" cy="1217.3" r="8" fill="#91d1c2" fill-opacity="0.6" stroke="#a6a6a6" stroke-width="1.9"/>
<circle cx="571.6" cy="1247.9" r="8" fill="#8491b4" fill-opacity="0.6" stroke="#a6a6a6" stroke-width="1.9"/>
<circle cx="842.7" cy="1354.4" r="7.5" fill="#91d1c2" fill-opacity="0.6" stroke="#a6a6a6" stroke-width="1.9"/>
<circle cx="585.3" cy="1483.5" r="7.5" fill="#d9d9d9" fill-opacity="0.6" stroke="#a6a6a6" stroke-width="1.9"/>
<circle cx="514.7" cy="1123.3" r="7.5" fill="#91d1c2" fill-opacity="0.6" stroke="#a6a6a6" stroke-width="1.9"/>
<circle cx="453.8" cy="1347.3" r="7.3" fill="#91d1c2" fill-opacity="0.6" stroke="#a6a6a6" stroke-width="1.9"/>
<circle cx="603" cy="1007.3" r="7.2" fill="#d9d9d9" fill-opacity="0.6" stroke="#a6a6a6" stroke-width="1.9"/>
<circle cx="370.9" cy="1192.2" r="7" fill="#91d1c2" fill-opacity="0.6" stroke="#a6a6a6" stroke-width="1.9"/>
<circle cx="685.8" cy="1551.9" r="7" fill="#d9d9d9" fill-opacity="0.6" stroke="#a6a6a6" stroke-width="1.9"/>
<circle cx="669" cy="1087.2" r="6.5" fill="#e64b35" fill-opacity="0.6" stroke="#a6a6a6" stroke-width="1.9"/>
<circle cx="717.5" cy="1124.4" r="6.5" fill="#91d1c2" fill-opacity="0.6" stroke="#a6a6a6" stroke-width="1.9"/>
<circle cx="244.6" cy="1064.7" r="6.5" fill="#91d1c2" fill-opacity="0.6" stroke="#a6a6a6" stroke-width="1.9"/>
<circle cx="258.1" cy="1154.1" r="6.5" fill="#d9d9d9" fill-opacity="0.6" stroke="#a6a6a6" stroke-width="1.9"/>
<circle cx="299.5" cy="1431.1" r="6.5" fill="#91d1c2" fill-opacity="0.6" stroke="#a6a6a6" stroke-width="1.9"/>
<circle cx="614.2" cy="1450.4" r="6.5" fill="#d9d9d9" fill-opacity="0.6" stroke="#a6a6a6" stroke-width="1.9"/>
<circle cx="372.9" cy="897.5" r="6" fill="#91d1c2" fill-opacity="0.6" stroke="#a6a6a6" stroke-width="1.9"/>
<circle cx="420.9" cy="899.5" r="6" fill="#91d1c2" fill-opacity="0.6" stroke="#a6a6a6" stroke-width="1.9"/>
<circle cx="275.2" cy="1323.8" r="6" fill="#d9d9d9" fill-opacity="0.6" stroke="#a6a6a6" stroke-width="1.9"/>
<circle cx="453.4" cy="1246.7" r="6" fill="#e64b35" fill-opacity="0.6" stroke="#a6a6a6" stroke-width="1.9"/>
<circle cx="370.9" cy="1552.4" r="6" fill="#d9d9d9" fill-opacity="0.6" stroke="#a6a6a6" stroke-width="1.9"/>
<circle cx="777.1" cy="1463.7" r="6" fill="#91d1c2" fill-opacity="0.6" stroke="#a6a6a6" stroke-width="1.9"/>
<circle cx="733.5" cy="1478" r="6" fill="#91d1c2" fill-opacity="0.6" stroke="#a6a6a6" stroke-width="1.9"/>
<circle cx="552.8" cy="1445.6" r="6" fill="#91d1c2" fill-opacity="0.6" stroke="#a6a6a6" stroke-width="1.9"/>
<circle cx="630.2" cy="1041" r="5.5" fill="#91d1c2" fill-opacity="0.6" stroke="#a6a6a6" stroke-width="1.9"/>
<circle cx="811.4" cy="1004.2" r="5.5" fill="#8491b4" fill-opacity="0.6" stroke="#a6a6a6" stroke-width="1.9"/>
<circle cx="818.2" cy="1040.6" r="5.5" fill="#d9d9d9" fill-opacity="0.6" stroke="#a6a6a6" stroke-width="1.9"/>
<circle cx="369.2" cy="1094" r="5.5" fill="#d9d9d9" fill-opacity="0.6" stroke="#a6a6a6" stroke-width="1.9"/>
<circle cx="485" cy="1312.9" r="5.5" fill="#e64b35" fill-opacity="0.6" stroke="#a6a6a6" stroke-width="1.9"/>
<circle cx="824.9" cy="1386.5" r="5.5" fill="#8491b4" fill-opacity="0.6" stroke="#a6a6a6" stroke-width="1.9"/>
<circle cx="698.1" cy="975.9" r="5" fill="#91d1c2" fill-opacity="0.6" stroke="#a6a6a6" stroke-width="1.9"/>
<circle cx="330.8" cy="1103.3" r="5" fill="#91d1c2" fill-opacity="0.6" stroke="#a6a6a6" stroke-width="1.9"/>
<circle cx="318.3" cy="1477.2" r="5" fill="#e64b35" fill-opacity="0.6" stroke="#a6a6a6" stroke-width="1.9"/>
<circle cx="422.8" cy="1457.4" r="5" fill="#d9d9d9" fill-opacity="0.6" stroke="#a6a6a6" stroke-width="1.9"/>
<circle cx="750.8" cy="1300.5" r="5" fill="#91d1c2" fill-opacity="0.6" stroke="#a6a6a6" stroke-width="1.9"/>
<circle cx="874.6" cy="1298.3" r="5" fill="#91d1c2" fill-opacity="0.6" stroke="#a6a6a6" stroke-width="1.9"/>
<circle cx="878.5" cy="1254.8" r="4.8" fill="#e64b35" fill-opacity="0.6" stroke="#a6a6a6" stroke-width="1.9"/>
<circle cx="715.7" cy="937.8" r="4.5" fill="#e64b35" fill-opacity="0.6" stroke="#a6a6a6" stroke-width="1.9"/>
<circle cx="700.1" cy="1400.8" r="4.5" fill="#91d1c2" fill-opacity="0.6" stroke="#a6a6a6" stroke-width="1.9"/>
<circle cx="586.3" cy="1103.2" r="4" fill="#91d1c2" fill-opacity="0.6" stroke="#a6a6a6" stroke-width="1.9"/>
<circle cx="750" cy="931.3" r="4" fill="#e64b35" fill-opacity="0.6" stroke="#a6a6a6" stroke-width="1.9"/>
<circle cx="502.9" cy="1160.4" r="4" fill="#e64b35" fill-opacity="0.6" stroke="#a6a6a6" stroke-width="1.9"/>
<circle cx="576.5" cy="1058.2" r="3.2" fill="#c4c4c4" fill-opacity="0.85" stroke="#a3a3a3" stroke-width="1.1"/>
<circle cx="180.5" cy="1164" r="3.2" fill="#c4c4c4" fill-opacity="0.85" stroke="#a3a3a3" stroke-width="1.1"/>
<circle cx="299.5" cy="1168" r="3.2" fill="#c4c4c4" fill-opacity="0.85" stroke="#a3a3a3" stroke-width="1.1"/>
<circle cx="185.2" cy="1255.1" r="3.5" fill="#91d1c2" fill-opacity="0.6" stroke="#a6a6a6" stroke-width="1.9"/>
<circle cx="396" cy="1303.3" r="3.5" fill="#e64b35" fill-opacity="0.6" stroke="#a6a6a6" stroke-width="1.9"/>
<circle cx="516.7" cy="1564.4" r="3.5" fill="#91d1c2" fill-opacity="0.6" stroke="#a6a6a6" stroke-width="1.9"/>
<circle cx="860.9" cy="1207.9" r="2.8" fill="#c4c4c4" fill-opacity="0.85" stroke="#a3a3a3" stroke-width="1.1"/>
<circle cx="170.4" cy="1132.8" r="3" fill="#e64b35" fill-opacity="0.6" stroke="#a6a6a6" stroke-width="1.9"/>
<circle cx="214.3" cy="1130.3" r="3" fill="#e64b35" fill-opacity="0.6" stroke="#a6a6a6" stroke-width="1.9"/>
<circle cx="226.3" cy="1211" r="2.8" fill="#c4c4c4" fill-opacity="0.85" stroke="#a3a3a3" stroke-width="1.1"/>
<circle cx="448.6" cy="1210.5" r="2.8" fill="#c4c4c4" fill-opacity="0.85" stroke="#a3a3a3" stroke-width="1.1"/>
<circle cx="373.4" cy="1494.2" r="2.8" fill="#c4c4c4" fill-opacity="0.85" stroke="#a3a3a3" stroke-width="1.1"/>
<circle cx="454.1" cy="1485.5" r="2.8" fill="#c4c4c4" fill-opacity="0.85" stroke="#a3a3a3" stroke-width="1.1"/>
<circle cx="726.9" cy="1363.4" r="2.8" fill="#c4c4c4" fill-opacity="0.85" stroke="#a3a3a3" stroke-width="1.1"/>
<circle cx="666.8" cy="1376.5" r="2.8" fill="#c4c4c4" fill-opacity="0.85" stroke="#a3a3a3" stroke-width="1.1"/>
<circle cx="585.3" cy="1338.4" r="2.8" fill="#c4c4c4" fill-opacity="0.85" stroke="#a3a3a3" stroke-width="1.1"/>
<circle cx="560.3" cy="910.8" r="2.6" fill="#c4c4c4" fill-opacity="0.85" stroke="#a3a3a3" stroke-width="1.1"/>
<circle cx="476.5" cy="958.8" r="2.6" fill="#c4c4c4" fill-opacity="0.85" stroke="#a3a3a3" stroke-width="1.1"/>
<circle cx="561.9" cy="952" r="2.3" fill="#c4c4c4" fill-opacity="0.85" stroke="#a3a3a3" stroke-width="1.1"/>
<circle cx="506.2" cy="982.1" r="2.3" fill="#c4c4c4" fill-opacity="0.85" stroke="#a3a3a3" stroke-width="1.1"/>
<circle cx="450.1" cy="913" r="2.3" fill="#c4c4c4" fill-opacity="0.85" stroke="#a3a3a3" stroke-width="1.1"/>
<circle cx="199.7" cy="1323.1" r="2.5" fill="#e64b35" fill-opacity="0.6" stroke="#a6a6a6" stroke-width="1.9"/>
<circle cx="422.3" cy="1374.7" r="2.3" fill="#c4c4c4" fill-opacity="0.85" stroke="#a3a3a3" stroke-width="1.1"/>
<circle cx="393.7" cy="1400.5" r="2.3" fill="#c4c4c4" fill-opacity="0.85" stroke="#a3a3a3" stroke-width="1.1"/>
<circle cx="340.9" cy="1382.7" r="2.3" fill="#c4c4c4" fill-opacity="0.85" stroke="#a3a3a3" stroke-width="1.1"/>
<circle cx="787.5" cy="1245.3" r="2.3" fill="#c4c4c4" fill-opacity="0.85" stroke="#a3a3a3" stroke-width="1.1"/>
<circle cx="813" cy="1275.5" r="2.3" fill="#c4c4c4" fill-opacity="0.85" stroke="#a3a3a3" stroke-width="1.1"/>
<circle cx="656.8" cy="1289.5" r="2.3" fill="#c4c4c4" fill-opacity="0.85" stroke="#a3a3a3" stroke-width="1.1"/>
<circle cx="713.7" cy="1523.1" r="2.3" fill="#c4c4c4" fill-opacity="0.85" stroke="#a3a3a3" stroke-width="1.1"/>
<circle cx="474.8" cy="998.4" r="1.8" fill="#c4c4c4" fill-opacity="0.85" stroke="#a3a3a3" stroke-width="1.1"/>
<circle cx="435.1" cy="1014.3" r="1.8" fill="#c4c4c4" fill-opacity="0.85" stroke="#a3a3a3" stroke-width="1.1"/>
<circle cx="463.7" cy="1037.2" r="1.8" fill="#c4c4c4" fill-opacity="0.85" stroke="#a3a3a3" stroke-width="1.1"/>
<circle cx="390.1" cy="929" r="1.8" fill="#c4c4c4" fill-opacity="0.85" stroke="#a3a3a3" stroke-width="1.1"/>
<circle cx="394.9" cy="974.4" r="1.8" fill="#c4c4c4" fill-opacity="0.85" stroke="#a3a3a3" stroke-width="1.1"/>
<circle cx="718.8" cy="1159.7" r="1.8" fill="#c4c4c4" fill-opacity="0.85" stroke="#a3a3a3" stroke-width="1.1"/>
<circle cx="397.2" cy="1162.7" r="1.8" fill="#c4c4c4" fill-opacity="0.85" stroke="#a3a3a3" stroke-width="1.1"/>
<circle cx="254.9" cy="1452.4" r="1.8" fill="#c4c4c4" fill-opacity="0.85" stroke="#a3a3a3" stroke-width="1.1"/>
<circle cx="793.4" cy="1431.6" r="1.8" fill="#c4c4c4" fill-opacity="0.85" stroke="#a3a3a3" stroke-width="1.1"/>
<circle cx="581.1" cy="1526.8" r="1.8" fill="#c4c4c4" fill-opacity="0.85" stroke="#a3a3a3" stroke-width="1.1"/>
<circle cx="626.2" cy="882.1" r="1.4" fill="#c4c4c4" fill-opacity="0.85" stroke="#a3a3a3" stroke-width="1.1"/>
<circle cx="604.4" cy="854.8" r="1.4" fill="#c4c4c4" fill-opacity="0.85" stroke="#a3a3a3" stroke-width="1.1"/>
<circle cx="658.5" cy="874.9" r="1.4" fill="#c4c4c4" fill-opacity="0.85" stroke="#a3a3a3" stroke-width="1.1"/>
<circle cx="707.6" cy="903.2" r="1.4" fill="#c4c4c4" fill-opacity="0.85" stroke="#a3a3a3" stroke-width="1.1"/>
<circle cx="777.6" cy="991" r="1.4" fill="#c4c4c4" fill-opacity="0.85" stroke="#a3a3a3" stroke-width="1.1"/>
<circle cx="733.5" cy="1040.8" r="1.4" fill="#c4c4c4" fill-opacity="0.85" stroke="#a3a3a3" stroke-width="1.1"/>
<circle cx="214.8" cy="1139.5" r="1.4" fill="#c4c4c4" fill-opacity="0.85" stroke="#a3a3a3" stroke-width="1.1"/>
<circle cx="842.8" cy="1274.4" r="1.4" fill="#c4c4c4" fill-opacity="0.85" stroke="#a3a3a3" stroke-width="1.1"/>
<circle cx="230.6" cy="1401.5" r="0.9" fill="#c4c4c4" fill-opacity="0.85" stroke="#a3a3a3" stroke-width="1.1"/>
<circle cx="382.2" cy="1478" r="0.9" fill="#c4c4c4" fill-opacity="0.85" stroke="#a3a3a3" stroke-width="1.1"/>
<circle cx="381" cy="1573" r="0.9" fill="#c4c4c4" fill-opacity="0.85" stroke="#a3a3a3" stroke-width="1.1"/>
<circle cx="710.7" cy="1444.9" r="0.9" fill="#c4c4c4" fill-opacity="0.85" stroke="#a3a3a3" stroke-width="1.1"/>
<circle cx="599.1" cy="1355.9" r="0.9" fill="#c4c4c4" fill-opacity="0.85" stroke="#a3a3a3" stroke-width="1.1"/>
<path d="M686.3 1140.4L692.6 1137.4" stroke="#c42a22" stroke-width="3.2" fill="none"/>
<path d="M648 857.1L630 877.2M454.4 912.6L470.1 920.9M774.6 920.3L757 928.8M680.6 945.3L707.4 939.1M791.4 981.2L779.6 989.2M390.8 976.3L359.5 988.3M461.6 1041.2L450 1057.3M304.5 1090.7L268.2 1100M192.5 1125.3L210.5 1130.3M166.7 1135.3L135.3 1152.9M400.5 1166.7L414.8 1175.9M475 1152.6L496.4 1160.4M660.5 1094L650.5 1107M698.1 1144.1L711.4 1144.1M904.9 1246.1L884.8 1253.1M432.8 1292L402.8 1300M491.3 1316.3L509.6 1322.1M196 1324.3L163.4 1335.1M368.4 1346.4L378 1361.4M388 1402.8L366.4 1408.5M312 1481.7L280.7 1495M453.6 1572L465.7 1583.2" fill="none" stroke="#000" stroke-width="1.35"/>
<g font-size="13.3" font-weight="bold" stroke="#000" stroke-width="0.3">
<text x="628.4" y="853.1" textLength="174.2" lengthAdjust="spacingAndGlyphs">TraesJUL2D03G01274070</text>
<text x="440.9" y="884.4" textLength="174.2" lengthAdjust="spacingAndGlyphs">TraesJUL1D03G00561360</text>
<text x="451.7" y="932" textLength="174.2" lengthAdjust="spacingAndGlyphs">TraesJUL1D03G00528370</text>
<text x="719.9" y="916.5" textLength="174.2" lengthAdjust="spacingAndGlyphs">TraesJUL1D03G00526590</text>
<text x="625.9" y="957.1" textLength="174.2" lengthAdjust="spacingAndGlyphs">TraesJUL6A03G03424360</text>
<text x="721.9" y="977.4" textLength="174.2" lengthAdjust="spacingAndGlyphs">TraesJUL5B03G03000030</text>
<text x="596.1" y="1029.3" textLength="174.2" lengthAdjust="spacingAndGlyphs">TraesJUL1B03G00386050</text>
<text x="264.9" y="1001.8" textLength="174.2" lengthAdjust="spacingAndGlyphs">TraesJUL2B03G01006870</text>
<text x="386.9" y="1068.6" textLength="174.2" lengthAdjust="spacingAndGlyphs">TraesJUL1B03G00365900</text>
<text x="259.4" y="1086.5" textLength="174.2" lengthAdjust="spacingAndGlyphs">TraesJUL7D03G04456910</text>
<text x="155.3" y="1123.3" textLength="174.2" lengthAdjust="spacingAndGlyphs">TraesJUL5D03G03225740</text>
<text x="0" y="1167.7" textLength="174.2" lengthAdjust="spacingAndGlyphs">TraesJUL7B03G04272840</text>
<text x="329.5" y="1186.3" textLength="174.2" lengthAdjust="spacingAndGlyphs">TraesJUL7A03G04023370</text>
<text x="424.6" y="1149.8" textLength="174.2" lengthAdjust="spacingAndGlyphs">TraesJUL1B03G00366120</text>
<text x="562" y="1116.3" textLength="174.2" lengthAdjust="spacingAndGlyphs">TraesJUL6B03G03472620</text>
<text x="711.9" y="1148.5" textLength="174.2" lengthAdjust="spacingAndGlyphs">TraesJUL5D03G03195750</text>
<text x="495.1" y="1200.7" textLength="174.2" lengthAdjust="spacingAndGlyphs">TraesJUL4B03G02384890</text>
<text x="802.1" y="1243.1" textLength="174.2" lengthAdjust="spacingAndGlyphs">TraesJUL3A03G01368020</text>
<text x="229.3" y="1266.9" textLength="174.2" lengthAdjust="spacingAndGlyphs">TraesJUL1D03G00525270</text>
<text x="365.9" y="1251.1" textLength="174.2" lengthAdjust="spacingAndGlyphs">TraesJUL3D03G02019920</text>
<text x="360.4" y="1289.5" textLength="174.2" lengthAdjust="spacingAndGlyphs">TraesJUL6A03G03280290</text>
<text x="429.8" y="1335.6" textLength="174.2" lengthAdjust="spacingAndGlyphs">TraesJUL7A03G03943760</text>
<text x="85.2" y="1347.9" textLength="174.2" lengthAdjust="spacingAndGlyphs">TraesJUL7B03G04085010</text>
<text x="281.9" y="1373.7" textLength="174.2" lengthAdjust="spacingAndGlyphs">TraesJUL6A03G03275180</text>
<text x="290.7" y="1420.3" textLength="174.2" lengthAdjust="spacingAndGlyphs">TraesJUL6D03G03694080</text>
<text x="413.5" y="1471.7" textLength="174.2" lengthAdjust="spacingAndGlyphs">TraesJUL6B03G03472360</text>
<text x="182.9" y="1508.5" textLength="174.2" lengthAdjust="spacingAndGlyphs">TraesJUL6A03G03280810</text>
<text x="402.2" y="1594.5" textLength="174.2" lengthAdjust="spacingAndGlyphs">TraesJUL3A03G01472800</text>
</g>
<circle cx="859" cy="1513.3" r="12.2" fill="#8491b4" fill-opacity="0.6" stroke="#a6a6a6" stroke-width="2.4"/>
<text x="876.8" y="1517.8" font-size="14.2">core</text>
<circle cx="859" cy="1547.4" r="12.2" fill="#e64b35" fill-opacity="0.6" stroke="#a6a6a6" stroke-width="2.4"/>
<text x="876.8" y="1551.8" font-size="14.2">cloud</text>
<circle cx="859" cy="1580.1" r="12.2" fill="#91d1c2" fill-opacity="0.6" stroke="#a6a6a6" stroke-width="2.4"/>
<text x="876.8" y="1585" font-size="14.2">shell</text>
<text x="14.2" y="914.9" font-size="38.4" stroke="#000" stroke-width="0.5">C</text>
</g>
<g id="panelD">
<polyline points="1101.5,1260 1156.4,1297.5 1211.3,1361.4 1266.2,1149.4 1321.1,1233.6 1376,1369" fill="none" stroke="#4dbbd5" stroke-width="4.1" stroke-dasharray="4.1 12.3" stroke-linejoin="round"/>
<polyline points="1101.5,1258.7 1156.4,1249.9 1211.3,1287.5 1266.2,1094.3 1321.1,1271 1376,1249.9" fill="none" stroke="#e64b35" stroke-width="4.1" stroke-dasharray="4.1 12.3" stroke-linejoin="round"/>
<polyline points="1101.5,1137.6 1156.4,1160.2 1211.3,1430.3 1266.2,1268.7 1321.1,1389 1376,1200" fill="none" stroke="#4dbbd5" stroke-width="4.1" stroke-dasharray="29.2 12" stroke-dashoffset="2" stroke-linejoin="round"/>
<polyline points="1101.5,1064.2 1156.4,1205 1211.3,1391.5 1266.2,1249.4 1321.1,1356.4 1376,1183" fill="none" stroke="#e64b35" stroke-width="4.1" stroke-dasharray="30.6 12.4" stroke-dashoffset="2" stroke-linejoin="round"/>
<polyline points="1101.5,1321.3 1156.4,1353.9 1211.3,1071.7 1266.2,1108 1321.1,1283.7 1376,1190" fill="none" stroke="#e64b35" stroke-width="4.1" stroke-linejoin="round"/>
<polyline points="1101.5,1297 1156.4,1218.5 1211.3,984 1266.2,1107.6 1321.1,1100.5 1376,1215.8" fill="none" stroke="#4dbbd5" stroke-width="4.1" stroke-linejoin="round"/>
<polyline points="1523.2,1160.5 1578.1,1433.8 1633,1234 1687.9,1040.5 1742.8,1106 1797.7,1069.5" fill="none" stroke="#0f9b80" stroke-width="4.1" stroke-dasharray="4.1 12.3" stroke-linejoin="round"/>
<polyline points="1523.2,1213.5 1578.1,1288.5 1633,1232 1687.9,1091.4 1742.8,1176.5 1797.7,1100" fill="none" stroke="#4dbbd5" stroke-width="4.1" stroke-dasharray="4.1 12.3" stroke-linejoin="round"/>
<polyline points="1523.2,1006.2 1578.1,1102 1633,1283.2 1687.9,1198.9 1742.8,1341.4 1797.7,985.2" fill="none" stroke="#0f9b80" stroke-width="4.1" stroke-dasharray="30.4 11.8" stroke-dashoffset="0" stroke-linejoin="round"/>
<polyline points="1523.2,1049.8 1578.1,1146.6 1633,1209.1 1687.9,1149.5 1742.8,1325.4 1797.7,996.9" fill="none" stroke="#4dbbd5" stroke-width="4.1" stroke-dasharray="31 13.4" stroke-dashoffset="0" stroke-linejoin="round"/>
<polyline points="1523.2,1282.4 1578.1,1363.2 1633,1073 1687.9,1088.4 1742.8,1090.8 1797.7,1132.6" fill="none" stroke="#0f9b80" stroke-width="4.1" stroke-linejoin="round"/>
<polyline points="1523.2,1239 1578.1,1266.4 1633,1097.7 1687.9,1076.8 1742.8,1113.7 1797.7,1077.4" fill="none" stroke="#4dbbd5" stroke-width="4.1" stroke-linejoin="round"/>
<path d="M1068.6 962.3V1452.9H1408.6" fill="none" stroke="#000" stroke-width="2.7" stroke-linecap="square"/>
<text x="1058.1" y="1023" font-size="18.5" text-anchor="end" font-weight="bold" fill="#4d4d4d">8</text>
<text x="1058.1" y="1162.1" font-size="18.5" text-anchor="end" font-weight="bold" fill="#4d4d4d">6</text>
<text x="1058.1" y="1301.2" font-size="18.5" text-anchor="end" font-weight="bold" fill="#4d4d4d">4</text>
<text x="1058.1" y="1440.3" font-size="18.5" text-anchor="end" font-weight="bold" fill="#4d4d4d">2</text>
<path d="M1101.5 1452.9v6.3M1156.4 1452.9v6.3M1211.3 1452.9v6.3M1266.2 1452.9v6.3M1321.1 1452.9v6.3M1376 1452.9v6.3M1068.6 1016.6h-6.3M1068.6 1155.7h-6.3M1068.6 1294.8h-6.3M1068.6 1433.9h-6.3" fill="none" stroke="#000" stroke-width="2.6"/>
<text x="1101.5" y="1478.7" font-size="18.5" text-anchor="middle" font-weight="bold" fill="#4d4d4d">D</text>
<text x="1156.4" y="1478.7" font-size="18.5" text-anchor="middle" font-weight="bold" fill="#4d4d4d">F</text>
<text x="1211.3" y="1478.7" font-size="18.5" text-anchor="middle" font-weight="bold" fill="#4d4d4d">G</text>
<text x="1266.2" y="1478.7" font-size="18.5" text-anchor="middle" font-weight="bold" fill="#4d4d4d">R</text>
<text x="1321.1" y="1478.7" font-size="18.5" text-anchor="middle" font-weight="bold" fill="#4d4d4d">S</text>
<text x="1376" y="1478.7" font-size="18.5" text-anchor="middle" font-weight="bold" fill="#4d4d4d">V</text>
<text x="1238.6" y="1502.6" font-size="18.8" text-anchor="middle" font-weight="bold">tissue</text>
<text font-size="19" text-anchor="middle" font-weight="bold" transform="translate(1035,1207.2) rotate(-90)">av. exp. log2(exp+1)</text>
<path d="M1490.4 965.3V1455H1830.2" fill="none" stroke="#000" stroke-width="2.7" stroke-linecap="square"/>
<text x="1479.9" y="1034.4" font-size="18.5" text-anchor="end" font-weight="bold" fill="#4d4d4d">8</text>
<text x="1479.9" y="1132.1" font-size="18.5" text-anchor="end" font-weight="bold" fill="#4d4d4d">7</text>
<text x="1479.9" y="1229.8" font-size="18.5" text-anchor="end" font-weight="bold" fill="#4d4d4d">6</text>
<text x="1479.9" y="1327.5" font-size="18.5" text-anchor="end" font-weight="bold" fill="#4d4d4d">5</text>
<text x="1479.9" y="1425.2" font-size="18.5" text-anchor="end" font-weight="bold" fill="#4d4d4d">4</text>
<path d="M1523.2 1455v6.3M1578.1 1455v6.3M1633 1455v6.3M1687.9 1455v6.3M1742.8 1455v6.3M1797.7 1455v6.3M1490.4 1028h-6.3M1490.4 1125.7h-6.3M1490.4 1223.4h-6.3M1490.4 1321.1h-6.3M1490.4 1418.8h-6.3" fill="none" stroke="#000" stroke-width="2.6"/>
<text x="1523.2" y="1480.8" font-size="18.5" text-anchor="middle" font-weight="bold" fill="#4d4d4d">D</text>
<text x="1578.1" y="1480.8" font-size="18.5" text-anchor="middle" font-weight="bold" fill="#4d4d4d">F</text>
<text x="1633" y="1480.8" font-size="18.5" text-anchor="middle" font-weight="bold" fill="#4d4d4d">G</text>
<text x="1687.9" y="1480.8" font-size="18.5" text-anchor="middle" font-weight="bold" fill="#4d4d4d">R</text>
<text x="1742.8" y="1480.8" font-size="18.5" text-anchor="middle" font-weight="bold" fill="#4d4d4d">S</text>
<text x="1797.7" y="1480.8" font-size="18.5" text-anchor="middle" font-weight="bold" fill="#4d4d4d">V</text>
<text x="1660.1" y="1505.7" font-size="18.8" text-anchor="middle" font-weight="bold">tissue</text>
<text font-size="19" text-anchor="middle" font-weight="bold" transform="translate(1457.3,1209.1) rotate(-90)">av. exp. log2(exp+1)</text>
<text x="1878.6" y="1225.2" font-size="19" font-weight="bold">subgenome</text>
<path d="M1878.8 1247.4H1918.8" stroke="#000" stroke-width="3.7"/>
<path d="M1878.8 1275.8H1918.8" stroke="#000" stroke-width="3.1" stroke-dasharray="24.5 10"/>
<path d="M1878.8 1301.9H1918.8" stroke="#000" stroke-width="3.4" stroke-dasharray="3.6 10.2"/>
<text x="1922.6" y="1254" font-size="19.2">A</text>
<text x="1922.6" y="1282.2" font-size="19.2">B</text>
<text x="1922.6" y="1308.5" font-size="19.2">D</text>
<text x="1879.6" y="1364.8" font-size="19" font-weight="bold">cultivar</text>
<path d="M1880.3 1390.3H1914.7" stroke="#e64b35" stroke-width="3"/>
<text x="1919.4" y="1397" font-size="19.2">JAG</text>
<path d="M1880.3 1417H1914.7" stroke="#4dbbd5" stroke-width="3"/>
<text x="1919.4" y="1423.7" font-size="19.2">JUL</text>
<path d="M1880.3 1444.5H1914.7" stroke="#0f9b80" stroke-width="3"/>
<text x="1919.4" y="1451.2" font-size="19.2">ARI</text>
<text x="1021.3" y="921.3" font-size="38.4" stroke="#000" stroke-width="0.5">D</text>
</g>
</svg>
</body></html>
